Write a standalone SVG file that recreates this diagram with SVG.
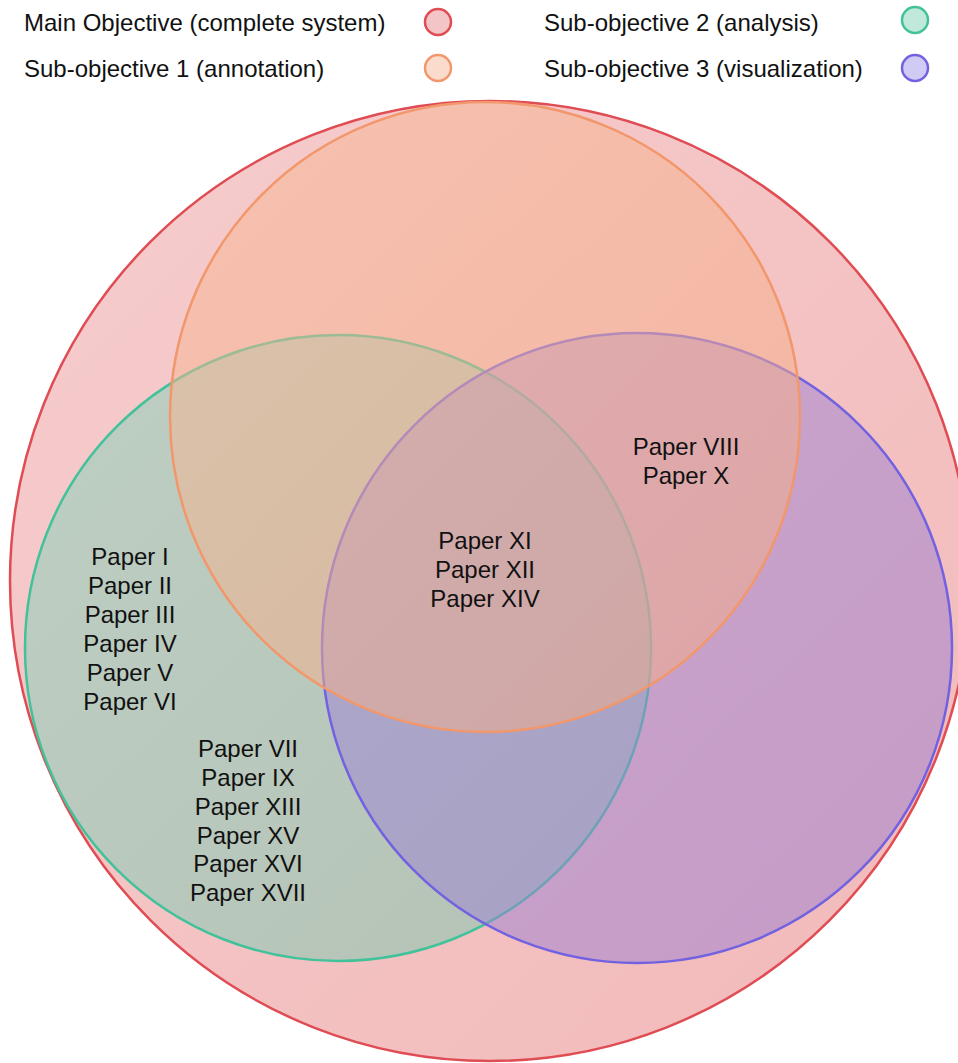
<svg xmlns="http://www.w3.org/2000/svg" width="958" height="1063" viewBox="0 0 958 1063">
  <defs>
    <linearGradient id="gRed" x1="0" y1="0" x2="1" y2="1">
      <stop offset="0" stop-color="#f6cdce"/>
      <stop offset="1" stop-color="#f2b9b9"/>
    </linearGradient>
    <linearGradient id="gOrange" x1="0" y1="0" x2="1" y2="1">
      <stop offset="0" stop-color="#f7b794"/>
      <stop offset="1" stop-color="#f4ab84"/>
    </linearGradient>
    <linearGradient id="gGreen" x1="0" y1="0" x2="1" y2="1">
      <stop offset="0" stop-color="#86d3bc"/>
      <stop offset="1" stop-color="#78c7ae"/>
    </linearGradient>
    <linearGradient id="gPurple" x1="0" y1="0" x2="1" y2="1">
      <stop offset="0" stop-color="#a086d8"/>
      <stop offset="1" stop-color="#977ccf"/>
    </linearGradient>
    <style>
      .lbl { font-family: "Liberation Sans", Arial, sans-serif; font-size: 24px; fill: #111; }
      .c { text-anchor: middle; }
      .set { stroke-width: 2.5; }
      .key { stroke-width: 2.5; }
    </style>
  </defs>

  <!-- legend -->
  <g id="legend">
    <text class="lbl" x="24" y="31">Main Objective (complete system)</text>
    <circle class="key" cx="438" cy="22" r="13" fill="#f4c5c7" stroke="#e04c53"/>
    <text class="lbl" x="24" y="77">Sub-objective 1 (annotation)</text>
    <circle class="key" cx="438" cy="68" r="13" fill="#fbdccc" stroke="#f2976b"/>
    <text class="lbl" x="544" y="31">Sub-objective 2 (analysis)</text>
    <circle class="key" cx="915" cy="20" r="13" fill="#c0e8db" stroke="#42c29a"/>
    <text class="lbl" x="544" y="77">Sub-objective 3 (visualization)</text>
    <circle class="key" cx="915" cy="68" r="13" fill="#d0cbf4" stroke="#7262e2"/>
  </g>

  <!-- sets, drawn back to front -->
  <g id="main-objective">
    <circle class="set" cx="490" cy="581" r="480" fill="url(#gRed)" stroke="#e04c53"/>
  </g>
  <g id="sub-objective-2">
    <circle class="set" cx="338" cy="648" r="313" fill="url(#gGreen)" fill-opacity="0.5" stroke="#42c29a"/>
  </g>
  <g id="sub-objective-3">
    <circle class="set" cx="637" cy="648" r="315" fill="url(#gPurple)" fill-opacity="0.5" stroke="#7262e2"/>
  </g>
  <g id="sub-objective-1">
    <circle class="set" cx="485" cy="417" r="315" fill="url(#gOrange)" fill-opacity="0.5" stroke="#f2976b"/>
  </g>

  <!-- region labels -->
  <g id="region-all">
    <text class="lbl c" x="485" y="549">Paper XI</text>
    <text class="lbl c" x="485" y="578">Paper XII</text>
    <text class="lbl c" x="485" y="607">Paper XIV</text>
  </g>
  <g id="region-annotation-visualization">
    <text class="lbl c" x="686" y="455">Paper VIII</text>
    <text class="lbl c" x="686" y="484">Paper X</text>
  </g>
  <g id="region-analysis-a">
    <text class="lbl c" x="130" y="565">Paper I</text>
    <text class="lbl c" x="130" y="594">Paper II</text>
    <text class="lbl c" x="130" y="623">Paper III</text>
    <text class="lbl c" x="130" y="652">Paper IV</text>
    <text class="lbl c" x="130" y="681">Paper V</text>
    <text class="lbl c" x="130" y="710">Paper VI</text>
  </g>
  <g id="region-analysis-b">
    <text class="lbl c" x="248" y="757">Paper VII</text>
    <text class="lbl c" x="248" y="786">Paper IX</text>
    <text class="lbl c" x="248" y="815">Paper XIII</text>
    <text class="lbl c" x="248" y="844">Paper XV</text>
    <text class="lbl c" x="248" y="872">Paper XVI</text>
    <text class="lbl c" x="248" y="901">Paper XVII</text>
  </g>

  <g id="connectors"/>
</svg>
